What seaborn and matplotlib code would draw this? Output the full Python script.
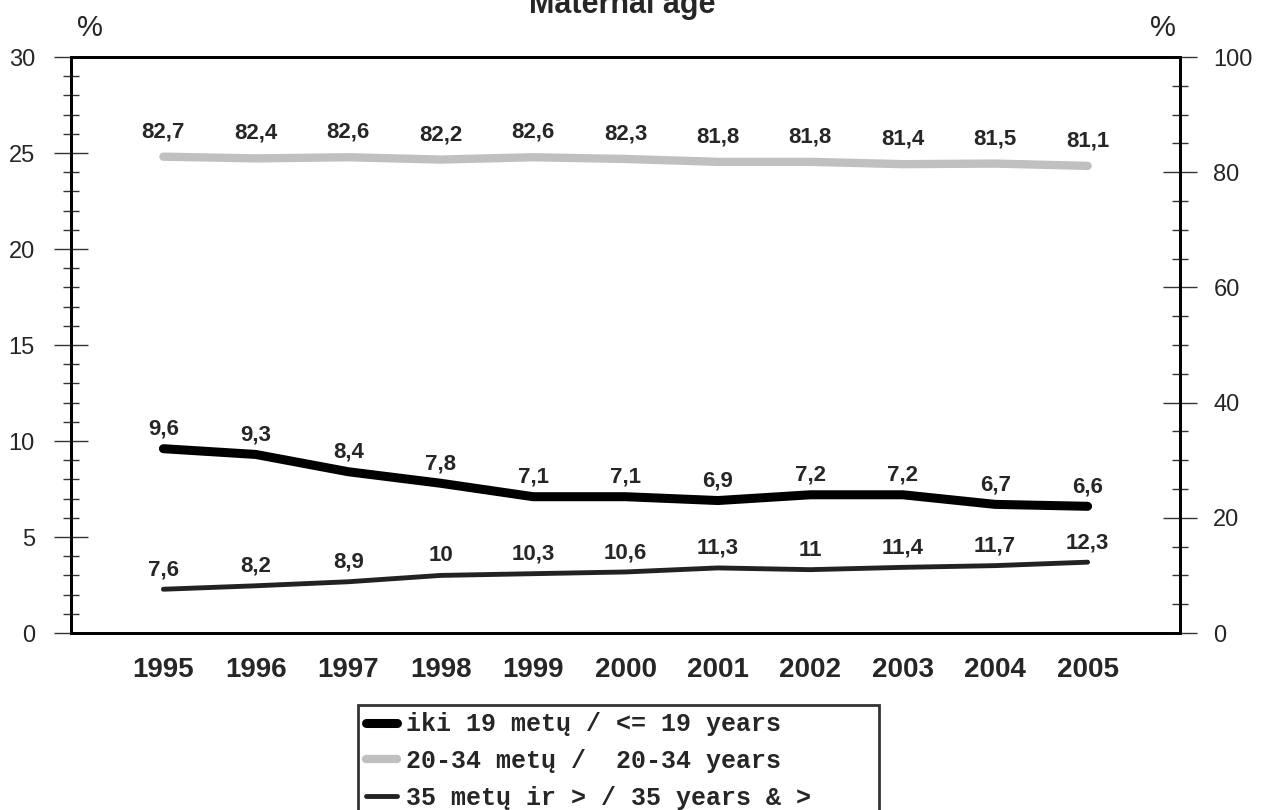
import numpy as np
import pandas as pd
import matplotlib
matplotlib.use("Agg")
import matplotlib.pyplot as plt
from matplotlib.ticker import MultipleLocator
import seaborn as sns

years = [1995, 1996, 1997, 1998, 1999, 2000, 2001, 2002, 2003, 2004, 2005]
under19 = [9.6, 9.3, 8.4, 7.8, 7.1, 7.1, 6.9, 7.2, 7.2, 6.7, 6.6]
age20_34 = [82.7, 82.4, 82.6, 82.2, 82.6, 82.3, 81.8, 81.8, 81.4, 81.5, 81.1]
age35 = [7.6, 8.2, 8.9, 10, 10.3, 10.6, 11.3, 11, 11.4, 11.7, 12.3]
labels = ["iki 19 metų / <= 19 years",
          "20-34 metų /  20-34 years",
          "35 metų ir > / 35 years & >"]

sns.set_style("white")
plt.rcParams['font.family'] = ['Liberation Sans', 'DejaVu Sans']

df = pd.DataFrame({"year": years, "u19": under19, "a20": age20_34, "a35": age35})

def fmt(v):
    s = ("%g" % v)
    return s.replace('.', ',')

fig = plt.figure(figsize=(12.63, 8.10), dpi=100)
ax = fig.add_axes([0.0562, 0.2185, 0.8781, 0.7111])
ax2 = ax.twinx()

sns.lineplot(data=df, x="year", y="u19", ax=ax, color="black", lw=6.5,
             solid_capstyle='round', label=labels[0], legend=False)
sns.lineplot(data=df, x="year", y="a20", ax=ax2, color="#c0c0c0", lw=6,
             solid_capstyle='round', label=labels[1], legend=False)
sns.lineplot(data=df, x="year", y="a35", ax=ax2, color="#222222", lw=3.5,
             solid_capstyle='round', label=labels[2], legend=False)

lab_kw = dict(textcoords="offset points", ha="center", va="center",
              fontsize=16, fontweight="bold")
for x, y in zip(years, under19):
    ax.annotate(fmt(y), (x, y), xytext=(0, 14), **lab_kw)
for x, y in zip(years, age20_34):
    ax2.annotate(fmt(y), (x, y), xytext=(0, 18), **lab_kw)
for x, y in zip(years, age35):
    ax2.annotate(fmt(y), (x, y), xytext=(0, 14), **lab_kw)

ax.set_xlim(1994, 2006)
ax.set_ylim(0, 30)
ax2.set_ylim(0, 100)
ax.set_xticks(years)
ax.set_xticklabels([str(y) for y in years], fontsize=20, fontweight="bold")
ax.set_yticks(range(0, 31, 5))
ax.yaxis.set_minor_locator(MultipleLocator(1))
ax2.set_yticks(range(0, 101, 20))
ax2.yaxis.set_minor_locator(MultipleLocator(5))
ax.set_xlabel("")
ax.set_ylabel("")
ax2.set_ylabel("")

ax.tick_params(axis='x', direction='in', length=12, width=1, color='#666666', pad=17)
ax.tick_params(axis='y', which='major', direction='inout', length=24, width=1,
               color='#333333', labelsize=17, pad=14)
ax.tick_params(axis='y', which='minor', direction='inout', length=12, width=1, color='#333333')
ax2.tick_params(axis='y', which='major', direction='inout', length=24, width=1,
                color='#333333', labelsize=17, pad=12)
ax2.tick_params(axis='y', which='minor', direction='inout', length=12, width=1, color='#333333')

for a in (ax, ax2):
    for s in a.spines.values():
        s.set_visible(True)
        s.set_color("black")
        s.set_linewidth(2)

fig.text(90 / 1263, 1 - 28 / 810, "%", fontsize=21, ha="center", va="center")
fig.text(1163 / 1263, 1 - 28 / 810, "%", fontsize=21, ha="center", va="center")
fig.text(622 / 1263, 1 - 13 / 810, "Maternal age", fontsize=22, fontweight="bold",
         ha="center", va="baseline")

h1, _ = ax.get_legend_handles_labels()
h2, _ = ax2.get_legend_handles_labels()
leg = fig.legend(h1 + h2, labels, loc="upper left",
                 bbox_to_anchor=(358 / 1263, 1 - 705 / 810, 521 / 1263, 0),
                 mode="expand",
                 prop={"family": "Liberation Mono", "weight": "bold", "size": 18},
                 frameon=True, fancybox=False, edgecolor="black",
                 handlelength=1.25, handletextpad=0.35, labelspacing=0.5,
                 borderpad=0.3, borderaxespad=0)
leg.get_frame().set_linewidth(2)
for line in leg.get_lines():
    line.set_solid_capstyle('round')

fig.savefig("out.png", dpi=100)
